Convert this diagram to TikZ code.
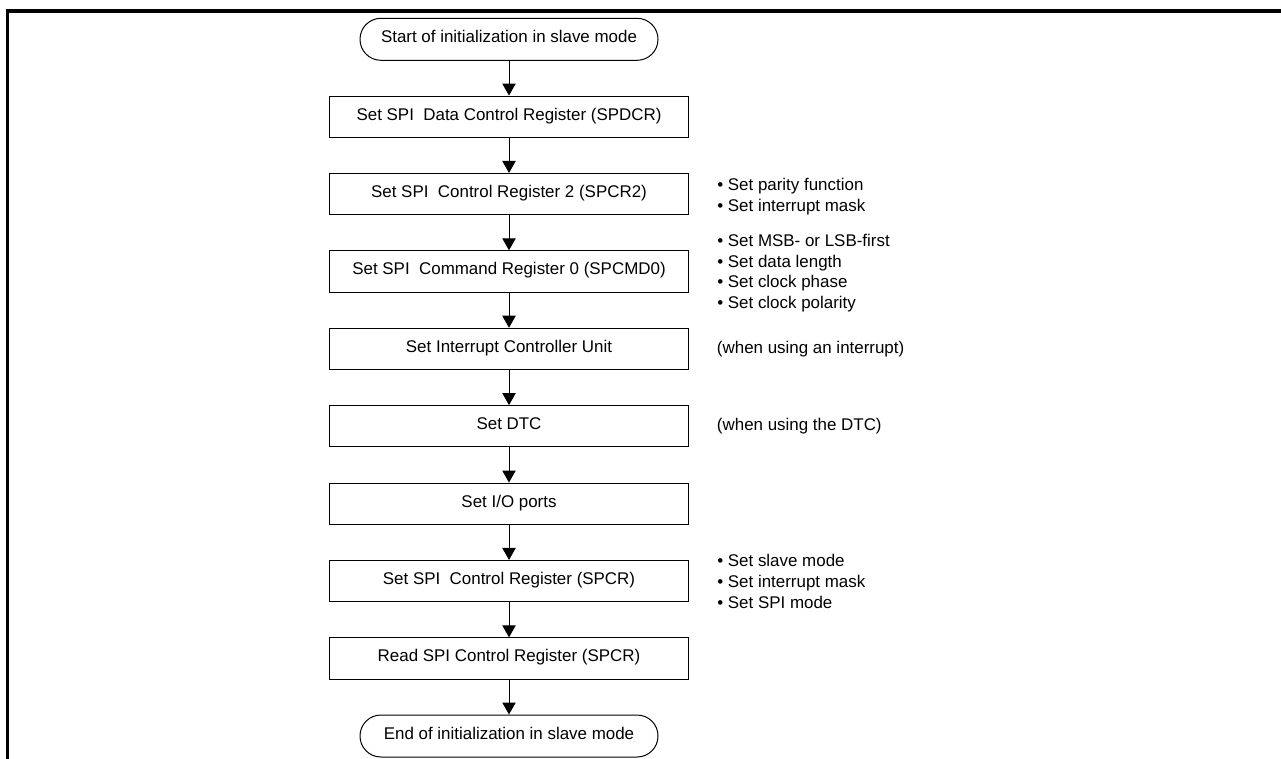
\documentclass[tikz,border=0pt]{standalone}
\usepackage{fontspec}
\setmainfont{Liberation Sans}
\usetikzlibrary{arrows.meta}
\begin{document}
\begin{tikzpicture}[x=0.75pt,y=-0.75pt,
  every node/.style={font=\fontsize{12.7}{15.9}\selectfont},
  proc/.style={draw, line width=0.75pt, minimum width=269.25pt, minimum height=31pt, inner sep=0pt, text height=0.72em, text depth=0.2em},
  term/.style={draw, line width=0.75pt, rounded corners=15.7pt, minimum width=223.5pt, minimum height=31.5pt, inner sep=0pt, text height=0.72em, text depth=0.2em},
  flow/.style={draw, line width=0.75pt, -{Triangle[width=10pt,length=9pt]}},
  note/.style={anchor=base west, inner sep=0pt}]
\useasboundingbox (0,0) rectangle (1281,758);
% frame
\draw[line width=2.5pt] (7.7,770) -- (7.7,11) -- (1290,11);
% flow
\node[term] (start) at (509,39.3) {Start of initialization in slave mode};
\node[proc] (b1) at (509,116.7) {Set SPI\ \ Data Control Register (SPDCR)};
\node[proc] (b2) at (509,194.1) {Set SPI\ \ Control Register 2 (SPCR2)};
\node[proc] (b3) at (509,271.5) {Set SPI\ \ Command Register 0 (SPCMD0)};
\node[proc] (b4) at (509,348.9) {Set Interrupt Controller Unit};
\node[proc] (b5) at (509,426.3) {Set DTC};
\node[proc] (b6) at (509,503.7) {Set I/O ports};
\node[proc] (b7) at (509,581.1) {Set SPI\ \ Control Register (SPCR)};
\node[proc] (b8) at (509,658.5) {Read SPI Control Register (SPCR)};
\node[term] (end) at (509,736) {End of initialization in slave mode};
\draw[flow] (start) -- (b1);
\draw[flow] (b1) -- (b2);
\draw[flow] (b2) -- (b3);
\draw[flow] (b3) -- (b4);
\draw[flow] (b4) -- (b5);
\draw[flow] (b5) -- (b6);
\draw[flow] (b6) -- (b7);
\draw[flow] (b7) -- (b8);
\draw[flow] (b8) -- (end);
% notes
\node[note] (n2a) at (717,190) {• Set parity function};
\node[note] (n2b) at (717,211) {• Set interrupt mask};
\node[note] (n3a) at (717,246) {• Set MSB- or LSB-first};
\node[note] (n3b) at (717,267) {• Set data length};
\node[note] (n3c) at (717,287.5) {• Set clock phase};
\node[note] (n3d) at (717,308) {• Set clock polarity};
\node[note] (n4) at (716.7,353.5) {(when using an interrupt)};
\node[note] (n5) at (716.7,430.5) {(when using the DTC)};
\node[note] (n7a) at (717,566) {• Set slave mode};
\node[note] (n7b) at (717,587) {• Set interrupt mask};
\node[note] (n7c) at (717,608) {• Set SPI mode};
\end{tikzpicture}
\end{document}
